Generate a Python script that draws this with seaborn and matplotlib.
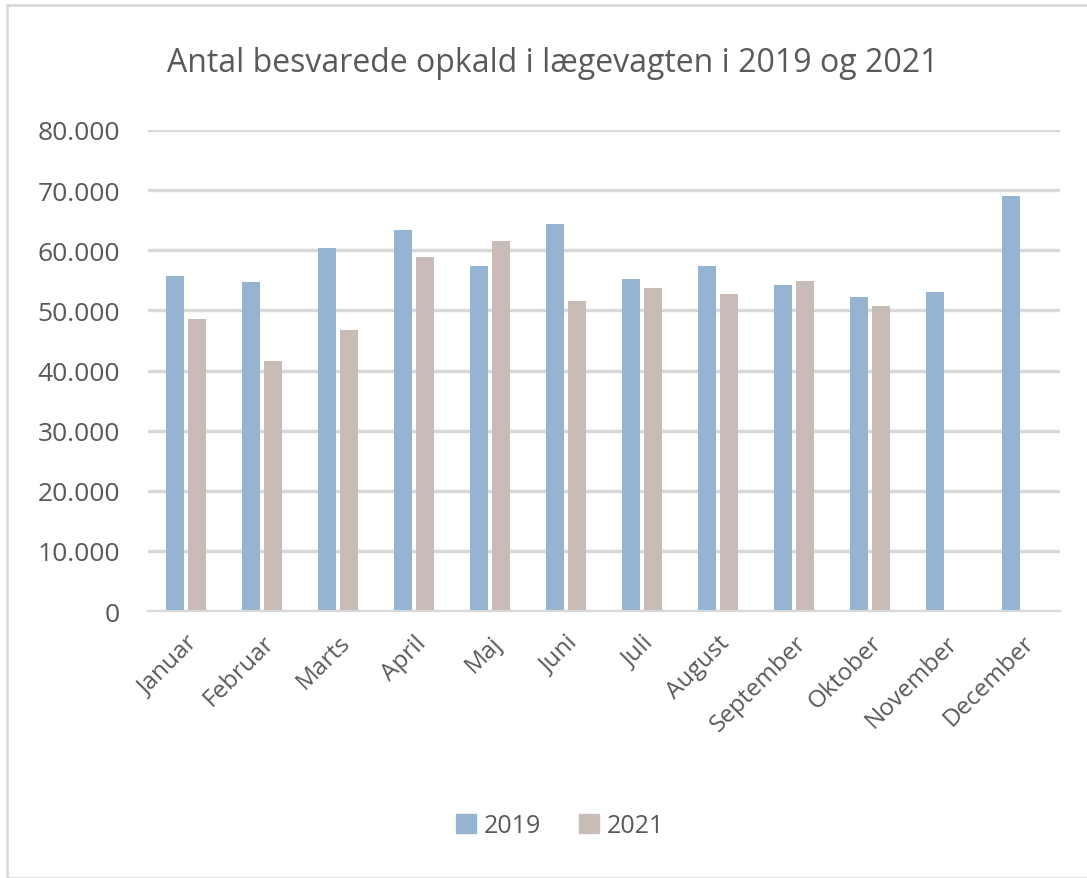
import matplotlib
matplotlib.use("Agg")
import matplotlib.pyplot as plt
import matplotlib.ticker as mticker
from matplotlib.patches import Rectangle
import seaborn as sns
import pandas as pd
import numpy as np

months = ["Januar", "Februar", "Marts", "April", "Maj", "Juni", "Juli",
          "August", "September", "Oktober", "November", "December"]
calls_2019 = [55800, 54700, 60300, 63400, 57400, 64300, 55300, 57400, 54300, 52300, 53100, 69100]
calls_2021 = [48600, 41500, 46800, 58800, 61600, 51600, 53800, 52800, 54900, 50800, None, None]
years = ["2019", "2021"]
y_ticks = [0, 10000, 20000, 30000, 40000, 50000, 60000, 70000, 80000]

rows = []
for m, a, b in zip(months, calls_2019, calls_2021):
    rows.append({"Måned": m, "År": years[0], "Antal": a})
    rows.append({"Måned": m, "År": years[1], "Antal": b})
df = pd.DataFrame(rows)
df["Antal"] = pd.to_numeric(df["Antal"])
df = df.dropna()

sns.set_style("white")
plt.rcParams["font.family"] = ["Open Sans", "DejaVu Sans"]
text_color = "#595959"

fig = plt.figure(figsize=(10.87, 8.79), dpi=100)
ax = fig.add_axes([148/1087, 1 - 612/879, (1060 - 148)/1087, (612 - 131)/879])

palette = {"2019": "#94B4D2", "2021": "#C9BCB6"}
sns.barplot(data=df, x="Måned", y="Antal", hue="År", order=months, hue_order=years,
            palette=palette, width=0.58, gap=0.22, ax=ax, legend=False,
            saturation=1, edgecolor="none")

ax.set_ylim(0, 80000)
ax.set_xlim(-0.5, 11.5)
ax.set_yticks(y_ticks)
ax.yaxis.set_major_formatter(mticker.FuncFormatter(lambda v, p: f"{int(v):,}".replace(",", ".")))
ax.grid(axis="y", color="#D9D9D9", linewidth=2.5)
ax.set_axisbelow(True)
for s in ["top", "right", "left"]:
    ax.spines[s].set_visible(False)
ax.spines["bottom"].set_color("#D9D9D9")
ax.spines["bottom"].set_linewidth(1.5)
ax.tick_params(axis="y", length=0, labelsize=19, labelcolor=text_color, pad=20)
ax.tick_params(axis="x", length=0, labelsize=17.5, labelcolor=text_color, pad=14)
ax.set_xlabel("")
ax.set_ylabel("")
for lbl in ax.get_xticklabels():
    lbl.set_rotation(45)
    lbl.set_ha("right")
    lbl.set_rotation_mode("anchor")

fig.text(553/1087, 1 - 63/879, "Antal besvarede opkald i lægevagten i 2019 og 2021",
         ha="center", va="center", fontsize=23, color=text_color)

handles = [Rectangle((0, 0), 1, 1, color=palette[y]) for y in years]
fig.legend(handles, years, loc="center", bbox_to_anchor=(560/1087, 1 - 827/879),
           ncol=2, frameon=False, fontsize=18, labelcolor=text_color,
           handlelength=0.8, handleheight=0.8, handletextpad=0.3, columnspacing=1.5)

fig.patches.append(Rectangle((7/1087, 0.0), 1.0, 1 - 6/879, transform=fig.transFigure,
                             fill=False, edgecolor="#D9D9D9", linewidth=2))

fig.savefig("out.png", dpi=100, facecolor="white")
